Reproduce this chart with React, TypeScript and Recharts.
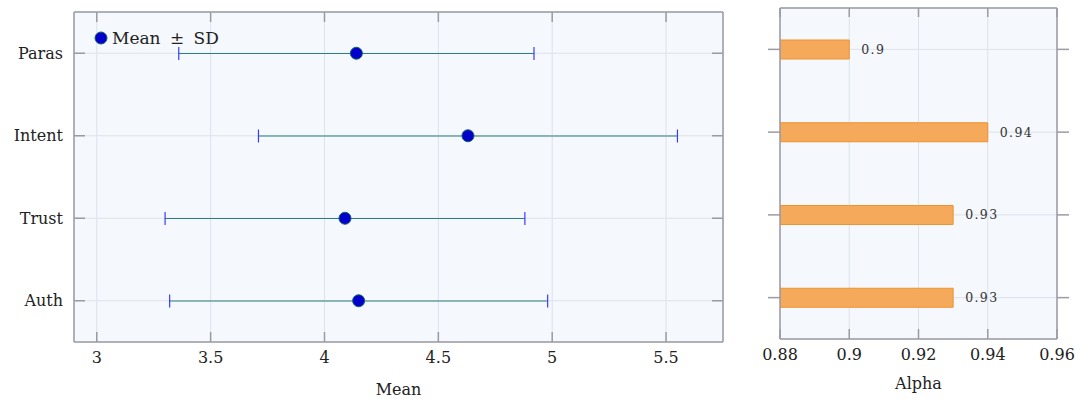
import React from 'react';
import {
  ComposedChart, BarChart, Bar, Line, XAxis, YAxis, CartesianGrid, LabelList, Legend,
} from 'recharts';

const categories = ['Paras', 'Intent', 'Trust', 'Auth'];
const means = [4.14, 4.63, 4.09, 4.15];
const sds = [0.78, 0.92, 0.79, 0.83];
const alphas = [0.9, 0.94, 0.93, 0.93];
const meanTicks = [3, 3.5, 4, 4.5, 5, 5.5];
const alphaTicks = [0.88, 0.9, 0.92, 0.94, 0.96];
const meanDomain = [2.9, 5.75];
const alphaDomain = [0.88, 0.96];

const FONT = "'DejaVu Serif', serif";
const FRAME = '#9b9ba3';
const GRID = '#dde2ec';
const BG = '#f5f8fc';

const meanData = categories.map((name, i) => ({
  name,
  mean: means[i],
  range: [means[i] - sds[i], means[i] + sds[i]],
}));
const alphaData = categories.map((name, i) => ({ name, alpha: alphas[i] }));

const ErrShape = (props: any) => {
  const { x, y, width, height } = props;
  const cy = y + height / 2;
  return (
    <g>
      <line x1={x} x2={x + width} y1={cy} y2={cy} stroke="#2b7f7c" strokeWidth={1.2} />
      <line x1={x} x2={x} y1={y} y2={y + height} stroke="#3b3bff" strokeWidth={1.2} />
      <line x1={x + width} x2={x + width} y1={y} y2={y + height} stroke="#3b3bff" strokeWidth={1.2} />
    </g>
  );
};

const EmptyTick = () => <g />;

const LegendContent = () => (
  <div style={{ display: 'flex', alignItems: 'center', fontFamily: FONT, fontSize: 17, color: '#222', whiteSpace: 'nowrap', wordSpacing: 4 }}>
    <svg width={14} height={14} style={{ marginRight: 4 }}>
      <circle cx={7} cy={7} r={6} fill="#0000cc" stroke="#135f66" strokeWidth={1} />
    </svg>
    <span>Mean ± SD</span>
  </div>
);

const tickStyle = { fontFamily: FONT, fontSize: 16, fill: '#222' };
const lineStyle = { stroke: FRAME, strokeWidth: 1.5 };

export default function App() {
  return (
    <div style={{ position: 'absolute', left: 0, top: 0, width: 1078, height: 399, background: '#fff' }}>
      <div style={{ position: 'absolute', left: 0, top: 0 }}>
        <ComposedChart width={740} height={399} data={meanData} layout="vertical"
          margin={{ top: 12, right: 17, bottom: 0, left: 14 }}>
          <CartesianGrid xAxisId="b" yAxisId="l" stroke={GRID} fill={BG} strokeWidth={1} />
          <XAxis xAxisId="b" type="number" domain={meanDomain} ticks={meanTicks} allowDataOverflow
            orientation="bottom" height={57} tickLine={false} tickSize={8} tickMargin={2}
            axisLine={lineStyle} tick={tickStyle}
            label={{ value: 'Mean', position: 'insideBottom', offset: 4, style: { fontFamily: FONT, fontSize: 16, fill: '#222' } }} />
          <XAxis xAxisId="bm" type="number" domain={meanDomain} ticks={meanTicks} allowDataOverflow interval={0}
            orientation="bottom" mirror height={30} tick={EmptyTick} tickSize={10} axisLine={false}
            tickLine={lineStyle} />
          <XAxis xAxisId="t" type="number" domain={meanDomain} ticks={meanTicks} allowDataOverflow interval={0}
            orientation="top" mirror height={30} tick={EmptyTick} tickSize={10}
            axisLine={lineStyle} tickLine={lineStyle} />
          <YAxis yAxisId="l" type="category" dataKey="name" width={60} tickSize={9} tickMargin={2}
            axisLine={lineStyle} tickLine={false} tick={tickStyle} />
          <YAxis yAxisId="lm" type="category" dataKey="name" orientation="left" mirror width={30} interval={0}
            tick={EmptyTick} tickSize={11} axisLine={false} tickLine={lineStyle} />
          <YAxis yAxisId="r" type="category" dataKey="name" orientation="right" mirror width={30} interval={0}
            tick={EmptyTick} tickSize={11} axisLine={lineStyle} tickLine={lineStyle} />
          <Bar xAxisId="b" yAxisId="l" dataKey="range" barSize={13} shape={ErrShape} isAnimationActive={false} />
          <Line xAxisId="b" yAxisId="l" dataKey="mean" stroke="none"
            dot={{ r: 6, fill: '#0000cc', stroke: '#135f66', strokeWidth: 1 }} activeDot={false} isAnimationActive={false} />
          <Legend layout="vertical" align="center" verticalAlign="middle" content={<LegendContent />}
            wrapperStyle={{ position: 'absolute', left: 94, top: 28, width: 'auto' }} />
        </ComposedChart>
      </div>
      <div style={{ position: 'absolute', left: 740, top: 0 }}>
        <BarChart width={338} height={399} data={alphaData} layout="vertical"
          margin={{ top: 8, right: 0, bottom: 0, left: 0 }}>
          <CartesianGrid xAxisId="b" yAxisId="l" stroke={GRID} fill={BG} strokeWidth={1} />
          <XAxis xAxisId="b" type="number" domain={alphaDomain} ticks={alphaTicks} allowDataOverflow
            orientation="bottom" height={60} tickLine={false} tickSize={8} tickMargin={2}
            axisLine={lineStyle} tick={tickStyle}
            label={{ value: 'Alpha', position: 'insideBottom', offset: 10, style: { fontFamily: FONT, fontSize: 16, fill: '#222' } }} />
          <XAxis xAxisId="bm" type="number" domain={alphaDomain} ticks={alphaTicks} allowDataOverflow interval={0}
            orientation="bottom" mirror height={30} tick={EmptyTick} tickSize={10} axisLine={false}
            tickLine={lineStyle} />
          <XAxis xAxisId="t" type="number" domain={alphaDomain} ticks={alphaTicks} allowDataOverflow interval={0}
            orientation="top" mirror height={30} tick={EmptyTick} tickSize={9}
            axisLine={lineStyle} tickLine={lineStyle} />
          <YAxis yAxisId="l" type="category" dataKey="name" width={40} tickSize={12} tick={EmptyTick}
            axisLine={lineStyle} tickLine={lineStyle} />
          <YAxis yAxisId="r" type="category" dataKey="name" orientation="right" width={21} tickSize={12} tick={EmptyTick}
            axisLine={lineStyle} tickLine={lineStyle} />
          <Bar xAxisId="b" yAxisId="l" dataKey="alpha" barSize={19} fill="#f5a95a" stroke="#f0922e" strokeWidth={1}
            isAnimationActive={false}>
            <LabelList dataKey="alpha" position="right" offset={12}
              style={{ fontFamily: FONT, fontSize: 12.5, fill: '#333', letterSpacing: 1.4 }} />
          </Bar>
        </BarChart>
      </div>
    </div>
  );
}
